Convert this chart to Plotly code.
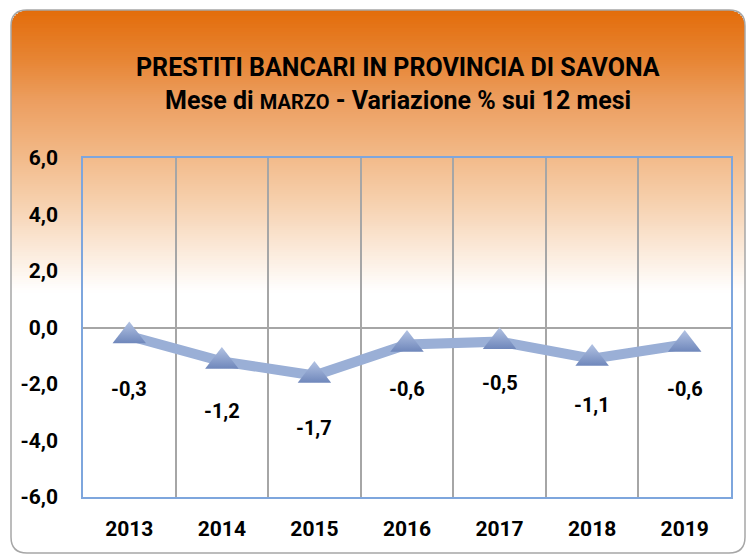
import numpy as np
import plotly.graph_objects as go

# --- data -------------------------------------------------------------
years = ["2013", "2014", "2015", "2016", "2017", "2018", "2019"]
variazione = [-0.3, -1.2, -1.7, -0.6, -0.5, -1.1, -0.6]
y_ticks = [-6, -4, -2, 0, 2, 4, 6]
y_tick_text = ["-6,0", "-4,0", "-2,0", "0,0", "2,0", "4,0", "6,0"]
title_1 = "PRESTITI BANCARI IN PROVINCIA DI SAVONA"
title_2 = "Mese di <span style='font-size:20px'>MARZO</span> - Variazione % sui 12 mesi"

# --- layout geometry (pixels) ----------------------------------------
W, H = 755, 557
ML, MR, MT, MB = 83, 24, 158, 60
PW, PH = W - ML - MR, H - MT - MB
FONT = "Roboto, Arial, sans-serif"


def px(x):
    return (x - ML) / PW


def py(y):
    return (H - MB - y) / PH


def it_label(v):
    return f"{v:.1f}".replace(".", ",")


# vertical offset of each value label below its marker
label_drop = [53, 50, 52, 45, 41, 46, 45]

fig = go.Figure()
fig.add_trace(go.Scatter(
    x=years, y=variazione, mode="lines+markers",
    line=dict(color="#9AAFD6", width=10),
    marker=dict(symbol="triangle-up", size=29, color="#B3C3E3",
                gradient=dict(type="vertical", color="#6F87BB"),
                line=dict(width=0)),
    hoverinfo="x+y", showlegend=False,
))

annotations = []
for i, (v, d) in enumerate(zip(variazione, label_drop)):
    annotations.append(dict(
        x=i, y=v, xref="x", yref="y", text=f"<b>{it_label(v)}</b>",
        showarrow=False, yshift=-d, yanchor="middle",
        font=dict(family=FONT, size=20, color="#000000"),
    ))

annotations.append(dict(
    x=px(398), y=py(67), xref="paper", yref="paper", showarrow=False,
    text=f"<b>{title_1}</b>", xanchor="center", yanchor="middle",
    font=dict(family=FONT, size=25, color="#000000"),
))
annotations.append(dict(
    x=px(398), y=py(101), xref="paper", yref="paper", showarrow=False,
    text=f"<b>{title_2}</b>", xanchor="center", yanchor="middle",
    font=dict(family=FONT, size=25, color="#000000"),
))

# --- rounded frame with orange-to-white gradient on top ---------------
X0, X1, Y0, Y1, R = 11, 745, 10, 553, 16
shapes = []


def corner_inset(y):
    if y < Y0 + R:
        dy = (Y0 + R) - y
        return R - np.sqrt(max(R * R - dy * dy, 0.0))
    return 0.0


stops_y = [10, 60, 100, 145, 200, 250, 292]
stops_c = [(227, 108, 10), (231, 133, 52), (236, 158, 95), (241, 180, 128),
           (246, 207, 172), (251, 234, 218), (255, 255, 255)]
step = 2
for y in range(Y0, 292, step):
    ym = y + step / 2
    c = [int(round(np.interp(ym, stops_y, [s[i] for s in stops_c]))) for i in range(3)]
    ins = corner_inset(ym)
    shapes.append(dict(
        type="rect", xref="paper", yref="paper", layer="below",
        x0=px(X0 + ins), x1=px(X1 - ins), y0=py(y), y1=py(y + step + 0.6),
        fillcolor=f"rgb({c[0]},{c[1]},{c[2]})", line=dict(width=0),
    ))


def rounded_path(x0, y0, x1, y1, r):
    pts = [
        f"M {px(x0 + r)},{py(y0)}",
        f"L {px(x1 - r)},{py(y0)}",
        f"Q {px(x1)},{py(y0)} {px(x1)},{py(y0 + r)}",
        f"L {px(x1)},{py(y1 - r)}",
        f"Q {px(x1)},{py(y1)} {px(x1 - r)},{py(y1)}",
        f"L {px(x0 + r)},{py(y1)}",
        f"Q {px(x0)},{py(y1)} {px(x0)},{py(y1 - r)}",
        f"L {px(x0)},{py(y0 + r)}",
        f"Q {px(x0)},{py(y0)} {px(x0 + r)},{py(y0)}",
        "Z",
    ]
    return " ".join(pts)


shapes.append(dict(
    type="path", xref="paper", yref="paper", layer="below",
    path=rounded_path(X0, Y0, X1, Y1, R),
    fillcolor="rgba(0,0,0,0)", line=dict(color="#A6A6A6", width=1.5),
))

fig.update_layout(
    width=W, height=H,
    margin=dict(l=ML, r=MR, t=MT, b=MB),
    paper_bgcolor="#FFFFFF", plot_bgcolor="#FFFFFF",
    shapes=shapes, annotations=annotations,
    xaxis=dict(
        type="category", range=[-0.5, len(years) - 0.5],
        tickson="boundaries", showgrid=True,
        gridcolor="#A6A6A6", gridwidth=1.5,
        showline=True, mirror=True, linecolor="#7EA6DD", linewidth=1.5,
        ticks="", ticklabelstandoff=12,
        tickfont=dict(family=FONT, size=21, color="#000000", weight="bold"),
        fixedrange=True,
    ),
    yaxis=dict(
        range=[-6, 6], tickvals=y_ticks, ticktext=y_tick_text,
        showgrid=False, zeroline=True, zerolinecolor="#A6A6A6", zerolinewidth=1.5,
        showline=True, mirror=True, linecolor="#7EA6DD", linewidth=1.5,
        ticks="", ticklabelstandoff=19,
        tickfont=dict(family=FONT, size=21, color="#000000", weight="bold"),
        fixedrange=True,
    ),
)

fig.write_html("out.html")
